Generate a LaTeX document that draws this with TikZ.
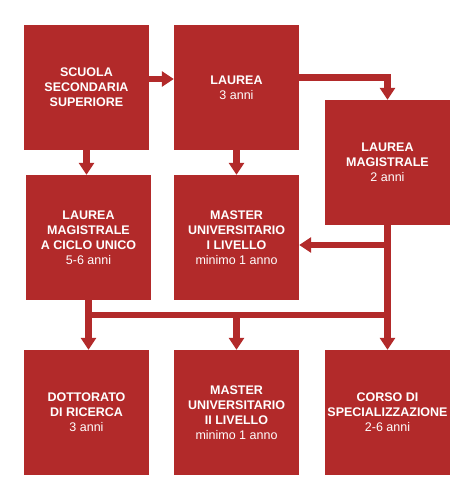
\documentclass[tikz,border=0pt]{standalone}
\usepackage{fontspec}
\setmainfont{Liberation Sans}
\usetikzlibrary{arrows.meta}
\usetikzlibrary{positioning}
\definecolor{uni}{RGB}{178,42,42}
\tikzset{box/.style={rectangle,fill=uni,text=white,minimum size=125pt,inner sep=0pt,
align=center, font=\fontsize{12.5}{15}\selectfont\bfseries},
link/.style={draw=uni,line width=6.5pt},
>={Triangle[width=15pt,length=12pt]}}
\begin{document}
\begin{tikzpicture}[x=1pt,y=-1pt]
  \useasboundingbox (0,0) rectangle (474,501);
  \node (scuola) [box] at (86.5,87.5) {SCUOLA\\SECONDARIA\\SUPERIORE};
  \node (laurea) [box] at (236.5,87.5) {LAUREA\\\mdseries 3 anni};
  \node (magistrale) [box] at (387.5,162.5) {LAUREA\\MAGISTRALE\\\mdseries 2 anni};
  \node (ciclo) [box] at (88.5,237.5) {LAUREA\\MAGISTRALE\\A CICLO UNICO\\\mdseries 5-6 anni};
  \node (master1) [box] at (236.5,237.5) {MASTER\\UNIVERSITARIO\\I LIVELLO\\\mdseries minimo 1 anno};
  \node (dottorato) [box] at (86.5,412.5) {DOTTORATO\\DI RICERCA\\\mdseries 3 anni};
  \node (master2) [box] at (236.5,412.5) {MASTER\\UNIVERSITARIO\\II LIVELLO\\\mdseries minimo 1 anno};
  \node (corso) [box] at (387.5,412.5) {CORSO DI\\SPECIALIZZAZIONE\\\mdseries 2-6 anni};
  \coordinate (bus) at (0,315);
  % frecce
  \draw [link,->] ([yshift=8.5pt]scuola.east) -- ([yshift=8.5pt]laurea.west);
  \draw [link,->] ([yshift=10pt]laurea.east) -| (magistrale.north);
  \draw [link,->] (scuola.south) -- (scuola.south |- ciclo.north);
  \draw [link,->] (laurea) -- (master1);
  \draw [link,->] (magistrale.south) -- (corso.north);
  \draw [link,->] ([yshift=-7.5pt]master1.east -| magistrale.south) -- ([yshift=-7.5pt]master1.east);
  \draw [link] (ciclo.south |- bus) -- (corso.north |- bus);
  \draw [link,->] (ciclo.south) -- (ciclo.south |- dottorato.north);
  \draw [link,->] (master2.north |- bus) -- (master2.north);
\end{tikzpicture}
\end{document}
